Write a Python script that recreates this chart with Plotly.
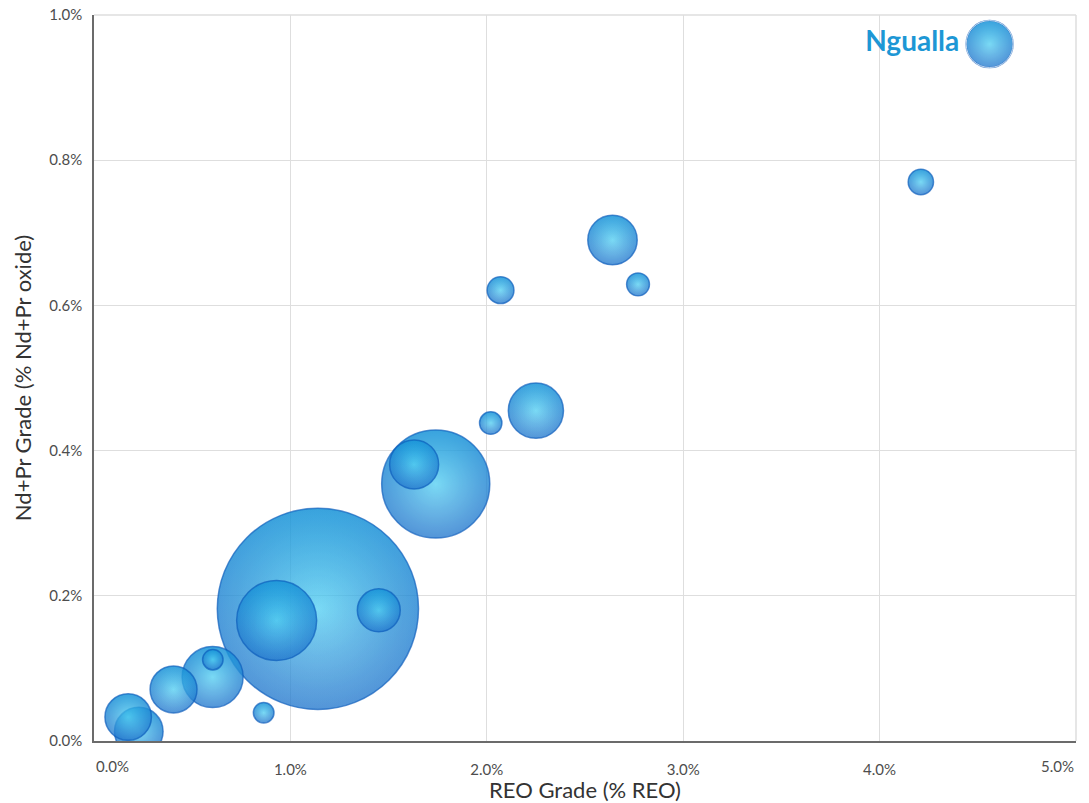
import plotly.graph_objects as go

# Deposits: REO grade (%), Nd+Pr oxide grade (%), relative contained resource
deposit_names = ["Ngualla", "", "", "", "", "", "", "", "", "", "", "", "", "", "", "", "", ""]
reo_grade = [4.56, 4.21, 2.64, 2.77, 2.07, 2.25, 2.02, 1.63, 1.74, 1.14,
             0.93, 1.45, 0.605, 0.604, 0.405, 0.864, 0.174, 0.228]
ndpr_grade = [0.960, 0.770, 0.690, 0.629, 0.621, 0.455, 0.438, 0.381, 0.354, 0.182,
              0.166, 0.180, 0.112, 0.088, 0.071, 0.039, 0.033, 0.013]
resource = [5.5, 1.6, 6.1, 1.3, 1.8, 7.6, 1.25, 6.0, 29.2, 101.2,
            16.0, 4.6, 1.04, 9.3, 5.5, 1.06, 5.4, 5.9]

x_ticks = [0, 1, 2, 3, 4, 5]
x_tick_text = ["0.0%", "1.0%", "2.0%", "3.0%", "4.0%", "5.0%"]
y_ticks = [0, 0.2, 0.4, 0.6, 0.8, 1.0]
y_tick_text = ["0.0%", "0.2%", "0.4%", "0.6%", "0.8%", "1.0%"]

SIZEREF = 1 / 200.0
FONT = "Lato"
TICK_COLOR = "#4d4d4d"

fig = go.Figure()

# Largest bubbles first so smaller ones sit on top
order = sorted(range(len(resource)), key=lambda i: -resource[i])

for i in order:
    common = dict(x=[reo_grade[i]], y=[ndpr_grade[i]], mode="markers",
                  hoverinfo="skip", showlegend=False, cliponaxis=True)
    size = dict(size=[resource[i]], sizemode="area", sizeref=SIZEREF)
    # body: vivid blue core fading to deeper blue edge
    fig.add_trace(go.Scatter(**common, opacity=0.9, marker=dict(
        **size, color="#0d70cf",
        gradient=dict(type="radial", color="#3cc4ef"),
        line=dict(width=0))))
    # cyan cap on top, paler reflection lower down
    fig.add_trace(go.Scatter(**common, marker=dict(
        **size, color="rgba(45,225,248,0.65)",
        gradient=dict(type="vertical", color="rgba(160,215,245,0.25)"),
        line=dict(width=0))))
    # darker edge shading
    fig.add_trace(go.Scatter(**common, marker=dict(
        **size, color="rgba(6,85,185,0.38)",
        gradient=dict(type="radial", color="rgba(6,85,185,0)"),
        line=dict(width=1.5, color="rgba(8,88,185,0.95)"))))

# Label for Ngualla, offset by its own bubble size
lab = [i for i, n in enumerate(deposit_names) if n]
fig.add_trace(go.Scatter(
    x=[reo_grade[i] for i in lab], y=[ndpr_grade[i] for i in lab],
    text=[deposit_names[i] for i in lab], mode="markers+text",
    marker=dict(size=[resource[i] for i in lab], sizemode="area",
                sizeref=SIZEREF, color="rgba(0,0,0,0)"),
    textposition="middle left", hoverinfo="skip", showlegend=False,
    textfont=dict(family=FONT, size=28, color="#1d97d5", weight="bold")))

# Edge tick labels on the x axis are aligned to the plot edges
annotations = []
for v, t in zip(x_ticks, x_tick_text):
    if v == x_ticks[0] or v == x_ticks[-1]:
        annotations.append(dict(
            x=v, y=0, xref="x", yref="paper", text=t, showarrow=False,
            xanchor="left" if v == x_ticks[0] else "right", yanchor="top",
            yshift=-14, font=dict(family=FONT, size=15, color=TICK_COLOR)))

inner_x = [v for v in x_ticks if v not in (x_ticks[0], x_ticks[-1])]
inner_x_text = [t for v, t in zip(x_ticks, x_tick_text) if v in inner_x]

fig.update_layout(
    width=1089, height=803,
    margin=dict(l=94, r=13, t=15, b=62),
    paper_bgcolor="white", plot_bgcolor="white",
    font=dict(family=FONT, color=TICK_COLOR),
    annotations=annotations,
    xaxis=dict(
        range=[0, 5], tickvals=inner_x, ticktext=inner_x_text,
        showgrid=True, gridcolor="#dedede", gridwidth=1,
        showline=True, linecolor="#6b6b6b", linewidth=1.5,
        zeroline=False, ticks="", ticklabelstandoff=14, automargin=False,
        tickfont=dict(family=FONT, size=15, color=TICK_COLOR),
        title=dict(text="REO Grade (% REO)", standoff=12,
                   font=dict(family=FONT, size=22, color="#333333")),
    ),
    yaxis=dict(
        range=[0, 1.0], tickvals=y_ticks, ticktext=y_tick_text,
        showgrid=True, gridcolor="#dedede", gridwidth=1,
        showline=True, linecolor="#6b6b6b", linewidth=1.5,
        zeroline=False, ticks="", ticklabelstandoff=7, automargin=False,
        tickfont=dict(family=FONT, size=15, color=TICK_COLOR),
        title=dict(text="Nd+Pr Grade (% Nd+Pr oxide)", standoff=12,
                   font=dict(family=FONT, size=22, color="#333333")),
    ),
)

# light frame on the top and right edges
fig.add_shape(type="line", xref="paper", yref="paper", x0=0, x1=1, y0=1, y1=1,
              line=dict(color="#dedede", width=1.5), layer="below")
fig.add_shape(type="line", xref="paper", yref="paper", x0=1, x1=1, y0=0, y1=1,
              line=dict(color="#dedede", width=1.5), layer="below")

fig.write_html("out.html")
